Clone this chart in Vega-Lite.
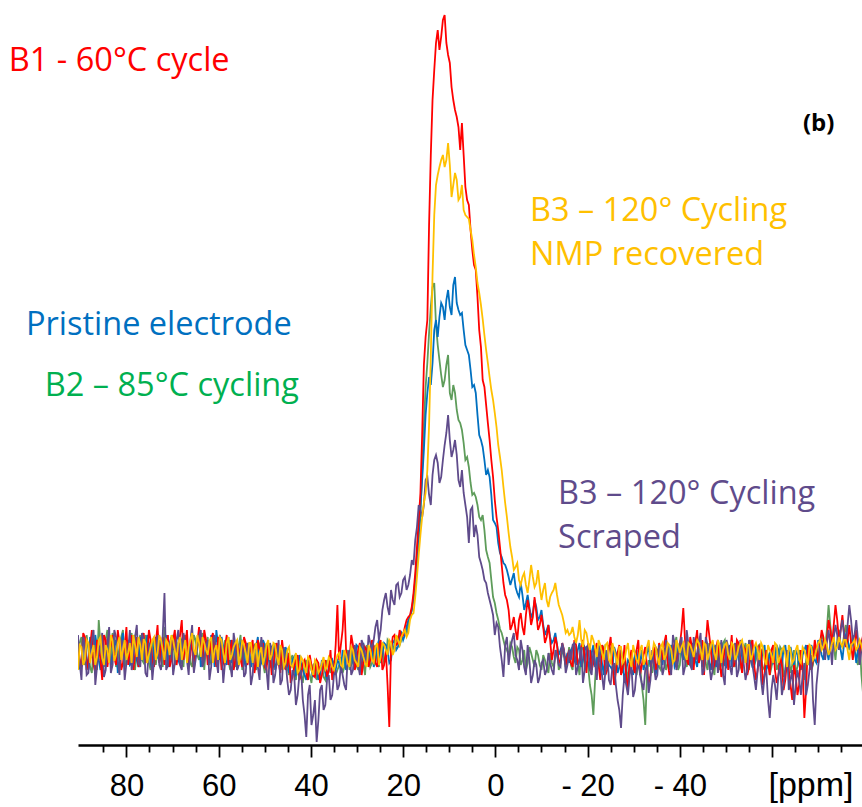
{
  "$schema": "https://vega.github.io/schema/vega-lite/v6.json",
  "width": 784,
  "height": 745,
  "autosize": {"type": "none"},
  "padding": {"left": 78, "top": 0, "right": 0, "bottom": 62},
  "background": "white",
  "config": {"view": {"stroke": null}},
  "datasets": {
    "spec": [
      {"p":90.5,"r":10,"o":-15,"b":5,"g":0,"v":20},
      {"p":90.125,"r":-5,"o":10,"b":-12,"g":12,"v":-8},
      {"p":89.75,"r":-12,"o":8,"b":-8,"g":18,"v":-25},
      {"p":89.375,"r":22,"o":-10,"b":15,"g":-5,"v":18},
      {"p":89,"r":18,"o":-5,"b":12,"g":-10,"v":10},
      {"p":88.625,"r":-15,"o":15,"b":-2,"g":20,"v":-20},
      {"p":88.25,"r":-5,"o":12,"b":-15,"g":5,"v":-18},
      {"p":87.875,"r":8,"o":-8,"b":18,"g":-12,"v":5},
      {"p":87.5,"r":25,"o":2,"b":8,"g":-18,"v":15},
      {"p":87.125,"r":-10,"o":10,"b":-10,"g":5,"v":25},
      {"p":86.75,"r":-18,"o":-10,"b":20,"g":12,"v":-30},
      {"p":86.375,"r":15,"o":-2,"b":8,"g":-15,"v":-12},
      {"p":86,"r":8,"o":15,"b":-5,"g":35,"v":5},
      {"p":85.625,"r":-5,"o":18,"b":-15,"g":10,"v":10},
      {"p":85.25,"r":-25,"o":-3,"b":10,"g":-8,"v":22},
      {"p":84.875,"r":20,"o":-10,"b":5,"g":-12,"v":-22},
      {"p":84.5,"r":15,"o":10,"b":-12,"g":15,"v":-15},
      {"p":84.125,"r":-12,"o":5,"b":15,"g":25,"v":8},
      {"p":83.75,"r":2,"o":-8,"b":18,"g":-5,"v":28},
      {"p":83.375,"r":10,"o":20,"b":-10,"g":-8,"v":-18},
      {"p":83,"r":20,"o":14,"b":0,"g":22,"v":-10},
      {"p":82.625,"r":-2,"o":-6,"b":10,"g":15,"v":25},
      {"p":82.25,"r":-10,"o":0,"b":15,"g":-12,"v":18},
      {"p":81.875,"r":25,"o":12,"b":-18,"g":-5,"v":-5},
      {"p":81.5,"r":12,"o":18,"b":-8,"g":8,"v":-20},
      {"p":81.125,"r":-15,"o":-5,"b":12,"g":18,"v":15},
      {"p":80.75,"r":-8,"o":5,"b":22,"g":25,"v":12},
      {"p":80.375,"r":8,"o":15,"b":-5,"g":-12,"v":-25},
      {"p":80,"r":28,"o":-5,"b":5,"g":-5,"v":-8},
      {"p":79.625,"r":-10,"o":2,"b":15,"g":8,"v":5},
      {"p":79.25,"r":5,"o":12,"b":-10,"g":15,"v":25},
      {"p":78.875,"r":20,"o":-8,"b":-8,"g":22,"v":-15},
      {"p":78.5,"r":-15,"o":20,"b":12,"g":-10,"v":-5},
      {"p":78.125,"r":0,"o":10,"b":20,"g":-15,"v":18},
      {"p":77.75,"r":18,"o":-2,"b":-5,"g":8,"v":30},
      {"p":77.375,"r":-12,"o":18,"b":-12,"g":12,"v":-8},
      {"p":77,"r":-5,"o":10,"b":18,"g":20,"v":-12},
      {"p":76.625,"r":12,"o":-5,"b":8,"g":-5,"v":22},
      {"p":76.25,"r":22,"o":16,"b":2,"g":-8,"v":15},
      {"p":75.875,"r":-8,"o":12,"b":-8,"g":20,"v":-18},
      {"p":75.5,"r":0,"o":-8,"b":20,"g":12,"v":-22},
      {"p":75.125,"r":25,"o":0,"b":12,"g":-8,"v":12},
      {"p":74.75,"r":15,"o":8,"b":-8,"g":-15,"v":8},
      {"p":74.375,"r":-5,"o":15,"b":-15,"g":10,"v":-25},
      {"p":74,"r":-12,"o":18,"b":10,"g":18,"v":-5},
      {"p":73.625,"r":12,"o":-5,"b":18,"g":-10,"v":5},
      {"p":73.25,"r":30,"o":2,"b":-2,"g":5,"v":20},
      {"p":72.875,"r":-8,"o":20,"b":-5,"g":15,"v":-10},
      {"p":72.5,"r":8,"o":15,"b":15,"g":-5,"v":-15},
      {"p":72.125,"r":18,"o":5,"b":8,"g":-12,"v":20},
      {"p":71.75,"r":-10,"o":-5,"b":5,"g":28,"v":62},
      {"p":71.375,"r":5,"o":15,"b":20,"g":10,"v":-15},
      {"p":71,"r":20,"o":12,"b":-12,"g":0,"v":-10},
      {"p":70.625,"r":-12,"o":0,"b":-5,"g":-8,"v":12},
      {"p":70.25,"r":-5,"o":20,"b":12,"g":15,"v":18},
      {"p":69.875,"r":15,"o":15,"b":5,"g":20,"v":-20},
      {"p":69.5,"r":25,"o":5,"b":20,"g":-10,"v":-8},
      {"p":69.125,"r":-10,"o":-5,"b":12,"g":0,"v":15},
      {"p":68.75,"r":2,"o":12,"b":-5,"g":12,"v":25},
      {"p":68.375,"r":20,"o":18,"b":-10,"g":15,"v":-10},
      {"p":68,"r":35,"o":-5,"b":15,"g":-8,"v":-15},
      {"p":67.625,"r":-5,"o":5,"b":20,"g":-12,"v":22},
      {"p":67.25,"r":10,"o":15,"b":8,"g":20,"v":12},
      {"p":66.875,"r":25,"o":-8,"b":0,"g":10,"v":-5},
      {"p":66.5,"r":-8,"o":8,"b":-10,"g":5,"v":-20},
      {"p":66.125,"r":0,"o":15,"b":12,"g":-8,"v":15},
      {"p":65.75,"r":18,"o":22,"b":15,"g":-12,"v":30},
      {"p":65.375,"r":-15,"o":5,"b":-8,"g":20,"v":-18},
      {"p":65,"r":5,"o":0,"b":2,"g":15,"v":-5},
      {"p":64.625,"r":12,"o":20,"b":10,"g":0,"v":8},
      {"p":64.25,"r":28,"o":12,"b":18,"g":-5,"v":18},
      {"p":63.875,"r":5,"o":-2,"b":-12,"g":12,"v":25},
      {"p":63.5,"r":-5,"o":18,"b":-5,"g":22,"v":-12},
      {"p":63.125,"r":25,"o":12,"b":15,"g":-15,"v":-5},
      {"p":62.75,"r":15,"o":5,"b":12,"g":8,"v":8},
      {"p":62.375,"r":-10,"o":0,"b":0,"g":18,"v":15},
      {"p":62,"r":0,"o":14,"b":-8,"g":-10,"v":-25},
      {"p":61.625,"r":15,"o":18,"b":20,"g":-5,"v":-12},
      {"p":61.25,"r":22,"o":-8,"b":10,"g":15,"v":15},
      {"p":60.875,"r":2,"o":5,"b":-12,"g":12,"v":20},
      {"p":60.5,"r":-12,"o":10,"b":25,"g":2,"v":-5},
      {"p":60.125,"r":18,"o":-5,"b":10,"g":-10,"v":-18},
      {"p":59.75,"r":10,"o":18,"b":-5,"g":18,"v":20},
      {"p":59.375,"r":-15,"o":15,"b":18,"g":5,"v":8},
      {"p":59,"r":-8,"o":2,"b":8,"g":-8,"v":-28},
      {"p":58.625,"r":8,"o":-8,"b":-5,"g":15,"v":-8},
      {"p":58.25,"r":20,"o":12,"b":-10,"g":10,"v":10},
      {"p":57.875,"r":-10,"o":18,"b":10,"g":-5,"v":18},
      {"p":57.5,"r":5,"o":-5,"b":15,"g":-15,"v":-10},
      {"p":57.125,"r":15,"o":0,"b":-8,"g":8,"v":-22},
      {"p":56.75,"r":-15,"o":8,"b":0,"g":12,"v":22},
      {"p":56.375,"r":-5,"o":12,"b":12,"g":-12,"v":10},
      {"p":56,"r":12,"o":15,"b":-15,"g":-2,"v":-15},
      {"p":55.625,"r":5,"o":-10,"b":-5,"g":10,"v":-10},
      {"p":55.25,"r":-5,"o":0,"b":10,"g":20,"v":5},
      {"p":54.875,"r":-12,"o":15,"b":15,"g":-15,"v":15},
      {"p":54.5,"r":18,"o":10,"b":-5,"g":-8,"v":-22},
      {"p":54.125,"r":12,"o":2,"b":-12,"g":12,"v":-18},
      {"p":53.75,"r":-10,"o":-8,"b":12,"g":5,"v":12},
      {"p":53.375,"r":0,"o":12,"b":5,"g":-5,"v":5},
      {"p":53,"r":8,"o":12,"b":-12,"g":-12,"v":-30},
      {"p":52.625,"r":15,"o":-8,"b":-5,"g":8,"v":-20},
      {"p":52.25,"r":-18,"o":5,"b":5,"g":10,"v":8},
      {"p":51.875,"r":-8,"o":12,"b":8,"g":-15,"v":12},
      {"p":51.5,"r":15,"o":-12,"b":18,"g":-5,"v":-12},
      {"p":51.125,"r":5,"o":2,"b":-12,"g":10,"v":-25},
      {"p":50.75,"r":0,"o":8,"b":-8,"g":15,"v":18},
      {"p":50.375,"r":12,"o":-10,"b":15,"g":-8,"v":5},
      {"p":50,"r":-12,"o":-2,"b":10,"g":-18,"v":-8},
      {"p":49.625,"r":-15,"o":10,"b":-10,"g":12,"v":-15},
      {"p":49.25,"r":10,"o":15,"b":-5,"g":8,"v":-35},
      {"p":48.875,"r":5,"o":-5,"b":0,"g":-12,"v":12},
      {"p":48.5,"r":-20,"o":0,"b":8,"g":-10,"v":5},
      {"p":48.125,"r":-10,"o":12,"b":10,"g":5,"v":-28},
      {"p":47.75,"r":5,"o":10,"b":-15,"g":12,"v":-20},
      {"p":47.375,"r":12,"o":-2,"b":-8,"g":-10,"v":-5},
      {"p":47,"r":-8,"o":-10,"b":5,"g":-5,"v":15},
      {"p":46.625,"r":-18,"o":10,"b":0,"g":8,"v":-30},
      {"p":46.25,"r":15,"o":5,"b":-10,"g":-15,"v":-25},
      {"p":45.875,"r":0,"o":-12,"b":-12,"g":-8,"v":8},
      {"p":45.5,"r":-15,"o":-8,"b":8,"g":5,"v":-5},
      {"p":45.125,"r":-10,"o":5,"b":2,"g":-12,"v":-25},
      {"p":44.75,"r":2,"o":8,"b":-18,"g":-20,"v":-40},
      {"p":44.375,"r":-28,"o":-10,"b":-12,"g":-5,"v":-35},
      {"p":44,"r":-22,"o":-12,"b":-5,"g":0,"v":-15},
      {"p":43.625,"r":-12,"o":-5,"b":-2,"g":-15,"v":-20},
      {"p":43.25,"r":-5,"o":2,"b":-20,"g":-25,"v":-50},
      {"p":42.875,"r":0,"o":-18,"b":-18,"g":-5,"v":-40},
      {"p":42.5,"r":-25,"o":-15,"b":0,"g":-8,"v":-20},
      {"p":42.125,"r":-20,"o":-2,"b":-8,"g":-20,"v":-15},
      {"p":41.75,"r":-8,"o":-5,"b":-15,"g":-28,"v":-45},
      {"p":41.375,"r":-5,"o":-12,"b":-20,"g":-10,"v":-60},
      {"p":41,"r":-18,"o":-18,"b":-25,"g":-5,"v":-82},
      {"p":40.625,"r":-25,"o":-2,"b":-5,"g":-15,"v":-40},
      {"p":40.25,"r":0,"o":-5,"b":-8,"g":-20,"v":-30},
      {"p":39.875,"r":-10,"o":-15,"b":-15,"g":-28,"v":-70},
      {"p":39.5,"r":-20,"o":-20,"b":-22,"g":-10,"v":-60},
      {"p":39.125,"r":-22,"o":-5,"b":-10,"g":-8,"v":-45},
      {"p":38.75,"r":-5,"o":-8,"b":-5,"g":-25,"v":-87},
      {"p":38.375,"r":-8,"o":-18,"b":-25,"g":-18,"v":-65},
      {"p":38,"r":-28,"o":-15,"b":-20,"g":-12,"v":-35},
      {"p":37.625,"r":-20,"o":-8,"b":-5,"g":-10,"v":-30},
      {"p":37.25,"r":-10,"o":-2,"b":-10,"g":-22,"v":-55},
      {"p":36.875,"r":-5,"o":-15,"b":-18,"g":-25,"v":-50},
      {"p":36.5,"r":-22,"o":-12,"b":-25,"g":-5,"v":-25},
      {"p":36.125,"r":-15,"o":-2,"b":-12,"g":-12,"v":-20},
      {"p":35.75,"r":5,"o":-5,"b":-8,"g":-18,"v":-45},
      {"p":35.375,"r":-25,"o":-12,"b":-5,"g":-5,"v":-40},
      {"p":35,"r":-15,"o":-15,"b":-18,"g":-8,"v":-20},
      {"p":34.625,"r":10,"o":-8,"b":-15,"g":-20,"v":-15},
      {"p":34.25,"r":50,"o":0,"b":-5,"g":-15,"v":-35},
      {"p":33.875,"r":-5,"o":2,"b":-8,"g":-10,"v":-30},
      {"p":33.5,"r":10,"o":-10,"b":-15,"g":-2,"v":-10},
      {"p":33.125,"r":25,"o":-12,"b":5,"g":-18,"v":-20},
      {"p":32.75,"r":55,"o":5,"b":0,"g":-12,"v":-30},
      {"p":32.375,"r":5,"o":0,"b":-15,"g":0,"v":-35},
      {"p":32,"r":-10,"o":-8,"b":-10,"g":5,"v":0},
      {"p":31.625,"r":-5,"o":-12,"b":2,"g":-15,"v":5},
      {"p":31.25,"r":20,"o":8,"b":5,"g":-10,"v":-20},
      {"p":30.875,"r":10,"o":5,"b":-8,"g":8,"v":-15},
      {"p":30.5,"r":-15,"o":-5,"b":-12,"g":0,"v":10},
      {"p":30.125,"r":-8,"o":-8,"b":10,"g":-10,"v":0},
      {"p":29.75,"r":5,"o":-12,"b":8,"g":-15,"v":-10},
      {"p":29.375,"r":12,"o":8,"b":-5,"g":2,"v":-20},
      {"p":29,"r":-20,"o":5,"b":-15,"g":8,"v":15},
      {"p":28.625,"r":-8,"o":-2,"b":12,"g":-8,"v":10},
      {"p":28.25,"r":8,"o":-8,"b":0,"g":-20,"v":-5},
      {"p":27.875,"r":5,"o":-12,"b":-8,"g":10,"v":-10},
      {"p":27.5,"r":-12,"o":10,"b":-10,"g":5,"v":20},
      {"p":27.125,"r":-5,"o":5,"b":5,"g":-12,"v":12},
      {"p":26.75,"r":15,"o":-5,"b":12,"g":-8,"v":5},
      {"p":26.375,"r":8,"o":-8,"b":-12,"g":5,"v":15},
      {"p":26,"r":-8,"o":8,"b":-5,"g":10,"v":28},
      {"p":25.625,"r":-12,"o":12,"b":8,"g":-5,"v":35},
      {"p":25.25,"r":10,"o":-10,"b":15,"g":-12,"v":15},
      {"p":24.875,"r":15,"o":-2,"b":-8,"g":12,"v":25},
      {"p":24.5,"r":-15,"o":12,"b":0,"g":8,"v":45},
      {"p":24.125,"r":-10,"o":10,"b":12,"g":-8,"v":55},
      {"p":23.75,"r":5,"o":5,"b":10,"g":-5,"v":62},
      {"p":23.375,"r":-30,"o":0,"b":5,"g":15,"v":48},
      {"p":23,"r":-72,"o":15,"b":-8,"g":12,"v":40},
      {"p":22.625,"r":5,"o":12,"b":-5,"g":0,"v":65},
      {"p":22.25,"r":18,"o":0,"b":12,"g":5,"v":55},
      {"p":21.875,"r":20,"o":5,"b":15,"g":10,"v":50},
      {"p":21.5,"r":10,"o":20,"b":5,"g":15,"v":70},
      {"p":21.125,"r":12,"o":15,"b":8,"g":18,"v":72},
      {"p":20.75,"r":25,"o":10,"b":18,"g":10,"v":58},
      {"p":20.375,"r":18,"o":18,"b":22,"g":15,"v":62},
      {"p":20,"r":20,"o":22,"b":15,"g":22,"v":75},
      {"p":19.625,"r":28,"o":25,"b":20,"g":25,"v":78},
      {"p":19.25,"r":35,"o":18,"b":28,"g":20,"v":65},
      {"p":18.875,"r":38,"o":22,"b":35,"g":30,"v":70},
      {"p":18.5,"r":40,"o":35,"b":38,"g":38,"v":80},
      {"p":18.125,"r":48,"o":40,"b":45,"g":45,"v":95},
      {"p":17.75,"r":62,"o":42,"b":58,"g":55,"v":90},
      {"p":17.375,"r":82,"o":58,"b":75,"g":70,"v":115},
      {"p":17,"r":108,"o":78,"b":98,"g":92,"v":128},
      {"p":16.625,"r":135,"o":100,"b":120,"g":112,"v":150},
      {"p":16.25,"r":162,"o":120,"b":148,"g":140,"v":145},
      {"p":15.875,"r":220,"o":138,"b":175,"g":185,"v":138},
      {"p":15.5,"r":290,"o":152,"b":205,"g":230,"v":150},
      {"p":15.125,"r":318,"o":162,"b":240,"g":268,"v":175},
      {"p":14.75,"r":335,"o":185,"b":262,"g":292,"v":178},
      {"p":14.375,"r":430,"o":230,"b":278,"g":322,"v":160},
      {"p":14,"r":500,"o":300,"b":270,"g":348,"v":150},
      {"p":13.625,"r":555,"o":380,"b":292,"g":368,"v":180},
      {"p":13.25,"r":585,"o":440,"b":325,"g":372,"v":195},
      {"p":12.875,"r":612,"o":470,"b":335,"g":330,"v":200},
      {"p":12.5,"r":625,"o":480,"b":318,"g":310,"v":192},
      {"p":12.125,"r":605,"o":488,"b":338,"g":295,"v":172},
      {"p":11.75,"r":618,"o":495,"b":352,"g":280,"v":178},
      {"p":11.375,"r":635,"o":500,"b":348,"g":268,"v":195},
      {"p":11,"r":640,"o":488,"b":335,"g":275,"v":210},
      {"p":10.625,"r":612,"o":495,"b":355,"g":290,"v":222},
      {"p":10.25,"r":600,"o":512,"b":365,"g":300,"v":240},
      {"p":9.875,"r":592,"o":490,"b":348,"g":262,"v":215},
      {"p":9.5,"r":568,"o":458,"b":340,"g":255,"v":198},
      {"p":9.125,"r":555,"o":470,"b":370,"g":270,"v":205},
      {"p":8.75,"r":545,"o":482,"b":378,"g":262,"v":215},
      {"p":8.375,"r":538,"o":475,"b":352,"g":245,"v":200},
      {"p":8,"r":528,"o":455,"b":345,"g":235,"v":175},
      {"p":7.625,"r":505,"o":458,"b":340,"g":232,"v":168},
      {"p":7.25,"r":532,"o":470,"b":342,"g":225,"v":185},
      {"p":6.875,"r":500,"o":445,"b":325,"g":212,"v":162},
      {"p":6.5,"r":468,"o":440,"b":310,"g":195,"v":150},
      {"p":6.125,"r":455,"o":438,"b":305,"g":198,"v":138},
      {"p":5.75,"r":450,"o":436,"b":300,"g":188,"v":112},
      {"p":5.375,"r":425,"o":425,"b":285,"g":172,"v":145},
      {"p":5,"r":405,"o":415,"b":268,"g":160,"v":148},
      {"p":4.625,"r":390,"o":400,"b":270,"g":162,"v":118},
      {"p":4.25,"r":385,"o":388,"b":262,"g":158,"v":130},
      {"p":3.875,"r":358,"o":372,"b":240,"g":150,"v":120},
      {"p":3.5,"r":325,"o":362,"b":220,"g":138,"v":98},
      {"p":3.125,"r":308,"o":350,"b":215,"g":135,"v":92},
      {"p":2.75,"r":275,"o":336,"b":208,"g":140,"v":85},
      {"p":2.375,"r":268,"o":320,"b":195,"g":125,"v":75},
      {"p":2,"r":250,"o":305,"b":180,"g":105,"v":72},
      {"p":1.625,"r":232,"o":292,"b":185,"g":98,"v":62},
      {"p":1.25,"r":215,"o":278,"b":178,"g":92,"v":55},
      {"p":0.875,"r":195,"o":265,"b":160,"g":75,"v":48},
      {"p":0.5,"r":178,"o":255,"b":135,"g":58,"v":40},
      {"p":0.125,"r":155,"o":242,"b":132,"g":52,"v":20},
      {"p":-0.25,"r":138,"o":228,"b":128,"g":42,"v":32},
      {"p":-0.625,"r":125,"o":210,"b":112,"g":35,"v":28},
      {"p":-1,"r":108,"o":198,"b":102,"g":26,"v":8},
      {"p":-1.375,"r":90,"o":185,"b":98,"g":22,"v":-5},
      {"p":-1.75,"r":72,"o":168,"b":92,"g":15,"v":-22},
      {"p":-2.125,"r":60,"o":152,"b":90,"g":8,"v":10},
      {"p":-2.5,"r":55,"o":138,"b":85,"g":5,"v":18},
      {"p":-2.875,"r":45,"o":122,"b":78,"g":0,"v":-10},
      {"p":-3.25,"r":25,"o":108,"b":70,"g":12,"v":5},
      {"p":-3.625,"r":30,"o":98,"b":76,"g":8,"v":15},
      {"p":-4,"r":38,"o":85,"b":82,"g":-2,"v":22},
      {"p":-4.375,"r":25,"o":88,"b":68,"g":-8,"v":0},
      {"p":-4.75,"r":15,"o":92,"b":62,"g":8,"v":-5},
      {"p":-5.125,"r":35,"o":75,"b":58,"g":5,"v":-15},
      {"p":-5.5,"r":42,"o":70,"b":72,"g":-10,"v":15},
      {"p":-5.875,"r":28,"o":78,"b":60,"g":-5,"v":5},
      {"p":-6.25,"r":20,"o":82,"b":45,"g":5,"v":-12},
      {"p":-6.625,"r":40,"o":70,"b":52,"g":-15,"v":-20},
      {"p":-7,"r":55,"o":62,"b":60,"g":-8,"v":10},
      {"p":-7.375,"r":45,"o":75,"b":48,"g":8,"v":-5},
      {"p":-7.75,"r":30,"o":90,"b":38,"g":2,"v":-28},
      {"p":-8.125,"r":38,"o":78,"b":42,"g":-5,"v":-20},
      {"p":-8.5,"r":58,"o":68,"b":55,"g":-12,"v":-5},
      {"p":-8.875,"r":42,"o":72,"b":48,"g":5,"v":-10},
      {"p":-9.25,"r":25,"o":85,"b":35,"g":0,"v":-28},
      {"p":-9.625,"r":30,"o":68,"b":38,"g":-10,"v":-22},
      {"p":-10,"r":40,"o":55,"b":45,"g":-15,"v":-8},
      {"p":-10.375,"r":28,"o":65,"b":30,"g":0,"v":-5},
      {"p":-10.75,"r":12,"o":72,"b":20,"g":-5,"v":-20},
      {"p":-11.125,"r":18,"o":55,"b":25,"g":-12,"v":-15},
      {"p":-11.5,"r":30,"o":48,"b":30,"g":-18,"v":2},
      {"p":-11.875,"r":15,"o":58,"b":18,"g":2,"v":-8},
      {"p":-12.25,"r":-5,"o":62,"b":12,"g":-8,"v":-15},
      {"p":-12.625,"r":5,"o":65,"b":15,"g":-12,"v":-20},
      {"p":-13,"r":18,"o":72,"b":22,"g":-2,"v":5},
      {"p":-13.375,"r":10,"o":60,"b":10,"g":5,"v":0},
      {"p":-13.75,"r":-8,"o":50,"b":0,"g":-15,"v":-10},
      {"p":-14.125,"r":-5,"o":45,"b":5,"g":-8,"v":-12},
      {"p":-14.5,"r":12,"o":40,"b":10,"g":5,"v":12},
      {"p":-14.875,"r":5,"o":32,"b":0,"g":0,"v":5},
      {"p":-15.25,"r":-10,"o":22,"b":-5,"g":-12,"v":-18},
      {"p":-15.625,"r":-2,"o":25,"b":2,"g":-5,"v":-10},
      {"p":-16,"r":5,"o":20,"b":-8,"g":8,"v":5},
      {"p":-16.375,"r":-8,"o":22,"b":5,"g":-10,"v":-5},
      {"p":-16.75,"r":-12,"o":28,"b":8,"g":-15,"v":10},
      {"p":-17.125,"r":15,"o":18,"b":-5,"g":10,"v":12},
      {"p":-17.5,"r":10,"o":12,"b":-10,"g":5,"v":-20},
      {"p":-17.875,"r":-10,"o":20,"b":5,"g":-8,"v":-12},
      {"p":-18.25,"r":-5,"o":35,"b":12,"g":-20,"v":-5},
      {"p":-18.625,"r":8,"o":15,"b":-12,"g":5,"v":8},
      {"p":-19,"r":15,"o":8,"b":-5,"g":10,"v":-28},
      {"p":-19.375,"r":-5,"o":25,"b":8,"g":-15,"v":-15},
      {"p":-19.75,"r":-18,"o":22,"b":5,"g":-8,"v":8},
      {"p":-20.125,"r":12,"o":12,"b":-8,"g":-12,"v":10},
      {"p":-20.5,"r":8,"o":5,"b":-15,"g":-30,"v":-15},
      {"p":-20.875,"r":-15,"o":20,"b":2,"g":-40,"v":-20},
      {"p":-21.25,"r":-8,"o":15,"b":10,"g":-60,"v":5},
      {"p":-21.625,"r":5,"o":8,"b":-12,"g":-25,"v":-8},
      {"p":-22,"r":12,"o":-2,"b":-8,"g":0,"v":-25},
      {"p":-22.375,"r":-10,"o":15,"b":10,"g":-8,"v":8},
      {"p":-22.75,"r":-25,"o":10,"b":5,"g":-15,"v":-10},
      {"p":-23.125,"r":10,"o":2,"b":-8,"g":5,"v":-20},
      {"p":-23.5,"r":5,"o":-5,"b":-20,"g":8,"v":-35},
      {"p":-23.875,"r":-20,"o":10,"b":5,"g":-15,"v":-15},
      {"p":-24.25,"r":-15,"o":12,"b":0,"g":-10,"v":5},
      {"p":-24.625,"r":8,"o":-5,"b":-10,"g":10,"v":-25},
      {"p":-25,"r":18,"o":-8,"b":-12,"g":5,"v":-30},
      {"p":-25.375,"r":-8,"o":12,"b":-15,"g":-8,"v":-12},
      {"p":-25.75,"r":-30,"o":5,"b":8,"g":-20,"v":-8},
      {"p":-26.125,"r":-18,"o":-2,"b":2,"g":-12,"v":-30},
      {"p":-26.5,"r":2,"o":-10,"b":-18,"g":2,"v":-45},
      {"p":-26.875,"r":10,"o":8,"b":-12,"g":5,"v":-55},
      {"p":-27.25,"r":-20,"o":8,"b":5,"g":-12,"v":-73},
      {"p":-27.625,"r":-12,"o":-8,"b":-5,"g":-18,"v":-40},
      {"p":-28,"r":10,"o":-5,"b":-28,"g":-5,"v":-20},
      {"p":-28.375,"r":-22,"o":5,"b":-15,"g":-12,"v":-30},
      {"p":-28.75,"r":-35,"o":12,"b":-5,"g":-25,"v":-40},
      {"p":-29.125,"r":-5,"o":-5,"b":-8,"g":-10,"v":-20},
      {"p":-29.5,"r":5,"o":-12,"b":-15,"g":0,"v":-10},
      {"p":-29.875,"r":-10,"o":10,"b":-20,"g":-5,"v":-42},
      {"p":-30.25,"r":-18,"o":2,"b":0,"g":-15,"v":-35},
      {"p":-30.625,"r":5,"o":-5,"b":5,"g":-20,"v":-15},
      {"p":-31,"r":15,"o":-8,"b":-12,"g":-8,"v":-5},
      {"p":-31.375,"r":-20,"o":5,"b":-8,"g":-12,"v":-20},
      {"p":-31.75,"r":-10,"o":10,"b":5,"g":-30,"v":-28},
      {"p":-32.125,"r":0,"o":-10,"b":-15,"g":-45,"v":-35},
      {"p":-32.5,"r":8,"o":-5,"b":-8,"g":-70,"v":-15},
      {"p":-32.875,"r":-12,"o":8,"b":2,"g":-20,"v":-10},
      {"p":-33.25,"r":-28,"o":15,"b":10,"g":-5,"v":-38},
      {"p":-33.625,"r":-20,"o":-5,"b":-12,"g":-10,"v":-25},
      {"p":-34,"r":0,"o":0,"b":-5,"g":-18,"v":5},
      {"p":-34.375,"r":8,"o":12,"b":5,"g":-5,"v":-10},
      {"p":-34.75,"r":-15,"o":8,"b":-20,"g":8,"v":-25},
      {"p":-35.125,"r":-8,"o":-2,"b":-12,"g":5,"v":-20},
      {"p":-35.5,"r":12,"o":-10,"b":2,"g":-12,"v":10},
      {"p":-35.875,"r":5,"o":8,"b":-5,"g":-15,"v":0},
      {"p":-36.25,"r":-5,"o":12,"b":-10,"g":5,"v":-20},
      {"p":-36.625,"r":12,"o":-5,"b":5,"g":0,"v":-12},
      {"p":-37,"r":20,"o":0,"b":8,"g":-15,"v":15},
      {"p":-37.375,"r":-8,"o":12,"b":-8,"g":-8,"v":8},
      {"p":-37.75,"r":-20,"o":10,"b":-15,"g":10,"v":-8},
      {"p":-38.125,"r":-15,"o":5,"b":10,"g":5,"v":-20},
      {"p":-38.5,"r":5,"o":-8,"b":5,"g":-5,"v":20},
      {"p":-38.875,"r":12,"o":-5,"b":-12,"g":10,"v":12},
      {"p":-39.25,"r":-12,"o":15,"b":-8,"g":18,"v":-15},
      {"p":-39.625,"r":0,"o":10,"b":5,"g":-15,"v":-5},
      {"p":-40,"r":10,"o":2,"b":12,"g":-10,"v":12},
      {"p":-40.375,"r":25,"o":8,"b":2,"g":12,"v":18},
      {"p":-40.75,"r":47,"o":12,"b":-5,"g":8,"v":-20},
      {"p":-41.125,"r":15,"o":0,"b":8,"g":-5,"v":-12},
      {"p":-41.5,"r":-5,"o":-5,"b":15,"g":-12,"v":25},
      {"p":-41.875,"r":-10,"o":12,"b":-8,"g":5,"v":10},
      {"p":-42.25,"r":18,"o":10,"b":-10,"g":12,"v":-10},
      {"p":-42.625,"r":8,"o":5,"b":12,"g":-10,"v":-15},
      {"p":-43,"r":-15,"o":-2,"b":8,"g":-8,"v":18},
      {"p":-43.375,"r":12,"o":8,"b":-5,"g":15,"v":5},
      {"p":-43.75,"r":25,"o":15,"b":-12,"g":20,"v":-5},
      {"p":-44.125,"r":-8,"o":12,"b":5,"g":0,"v":12},
      {"p":-44.5,"r":0,"o":5,"b":10,"g":-5,"v":22},
      {"p":-44.875,"r":15,"o":-5,"b":-12,"g":5,"v":-20},
      {"p":-45.25,"r":-20,"o":12,"b":-8,"g":10,"v":-15},
      {"p":-45.625,"r":10,"o":10,"b":10,"g":-8,"v":18},
      {"p":-46,"r":35,"o":-5,"b":5,"g":-15,"v":10},
      {"p":-46.375,"r":20,"o":2,"b":-8,"g":12,"v":-10},
      {"p":-46.75,"r":5,"o":10,"b":-15,"g":5,"v":-25},
      {"p":-47.125,"r":-15,"o":15,"b":12,"g":-12,"v":-15},
      {"p":-47.5,"r":-10,"o":2,"b":8,"g":-20,"v":5},
      {"p":-47.875,"r":8,"o":-5,"b":-12,"g":5,"v":10},
      {"p":-48.25,"r":15,"o":15,"b":-5,"g":8,"v":-18},
      {"p":-48.625,"r":-5,"o":10,"b":5,"g":-15,"v":-5},
      {"p":-49,"r":-22,"o":-8,"b":12,"g":-10,"v":15},
      {"p":-49.375,"r":-10,"o":5,"b":0,"g":12,"v":-20},
      {"p":-49.75,"r":8,"o":10,"b":-10,"g":15,"v":-30},
      {"p":-50.125,"r":12,"o":12,"b":-12,"g":-10,"v":15},
      {"p":-50.5,"r":-15,"o":0,"b":5,"g":-5,"v":8},
      {"p":-50.875,"r":0,"o":-5,"b":10,"g":8,"v":-12},
      {"p":-51.25,"r":20,"o":12,"b":-12,"g":10,"v":-20},
      {"p":-51.625,"r":-12,"o":10,"b":-5,"g":-5,"v":5},
      {"p":-52,"r":-8,"o":-5,"b":10,"g":-12,"v":12},
      {"p":-52.375,"r":15,"o":0,"b":5,"g":12,"v":-22},
      {"p":-52.75,"r":12,"o":8,"b":-5,"g":5,"v":-15},
      {"p":-53.125,"r":-5,"o":12,"b":-10,"g":-12,"v":15},
      {"p":-53.5,"r":-18,"o":15,"b":12,"g":-8,"v":5},
      {"p":-53.875,"r":8,"o":5,"b":5,"g":5,"v":-10},
      {"p":-54.25,"r":5,"o":-8,"b":-8,"g":12,"v":-25},
      {"p":-54.625,"r":-20,"o":10,"b":10,"g":-10,"v":-15},
      {"p":-55,"r":-12,"o":10,"b":5,"g":-15,"v":15},
      {"p":-55.375,"r":10,"o":-5,"b":-5,"g":15,"v":10},
      {"p":-55.75,"r":15,"o":0,"b":-12,"g":8,"v":-10},
      {"p":-56.125,"r":-10,"o":8,"b":-12,"g":-10,"v":-22},
      {"p":-56.5,"r":-25,"o":12,"b":8,"g":-5,"v":-35},
      {"p":-56.875,"r":-15,"o":5,"b":5,"g":8,"v":-15},
      {"p":-57.25,"r":8,"o":-5,"b":-10,"g":10,"v":5},
      {"p":-57.625,"r":5,"o":12,"b":-8,"g":-5,"v":-25},
      {"p":-58,"r":-30,"o":8,"b":5,"g":-12,"v":-40},
      {"p":-58.375,"r":-20,"o":-5,"b":10,"g":-15,"v":-20},
      {"p":-58.75,"r":5,"o":-10,"b":-15,"g":5,"v":-15},
      {"p":-59.125,"r":-8,"o":10,"b":-10,"g":0,"v":-45},
      {"p":-59.5,"r":-20,"o":5,"b":2,"g":-20,"v":-63},
      {"p":-59.875,"r":5,"o":0,"b":5,"g":-12,"v":-35},
      {"p":-60.25,"r":10,"o":-8,"b":-8,"g":0,"v":-20},
      {"p":-60.625,"r":-15,"o":12,"b":-5,"g":8,"v":-30},
      {"p":-61,"r":-28,"o":10,"b":10,"g":-15,"v":-45},
      {"p":-61.375,"r":-20,"o":-8,"b":5,"g":-10,"v":-20},
      {"p":-61.75,"r":0,"o":-2,"b":-12,"g":8,"v":-10},
      {"p":-62.125,"r":-10,"o":5,"b":-8,"g":5,"v":-40},
      {"p":-62.5,"r":-35,"o":8,"b":5,"g":-22,"v":-30},
      {"p":-62.875,"r":-25,"o":0,"b":10,"g":-15,"v":-15},
      {"p":-63.25,"r":-5,"o":-12,"b":-5,"g":-5,"v":5},
      {"p":-63.625,"r":-15,"o":10,"b":-8,"g":0,"v":-35},
      {"p":-64,"r":-30,"o":5,"b":8,"g":-18,"v":-25},
      {"p":-64.375,"r":-45,"o":-8,"b":0,"g":-10,"v":-15},
      {"p":-64.75,"r":-10,"o":-5,"b":-10,"g":5,"v":-50},
      {"p":-65.125,"r":-20,"o":5,"b":5,"g":-18,"v":-30},
      {"p":-65.5,"r":-40,"o":10,"b":0,"g":-12,"v":-15},
      {"p":-65.875,"r":-30,"o":-5,"b":-10,"g":5,"v":-25},
      {"p":-66.25,"r":5,"o":-8,"b":-15,"g":0,"v":-40},
      {"p":-66.625,"r":-15,"o":8,"b":0,"g":-12,"v":-20},
      {"p":-67,"r":-63,"o":5,"b":5,"g":-25,"v":-8},
      {"p":-67.375,"r":-35,"o":-2,"b":10,"g":-5,"v":-40},
      {"p":-67.75,"r":10,"o":-10,"b":-8,"g":5,"v":-30},
      {"p":-68.125,"r":0,"o":10,"b":-10,"g":8,"v":-15},
      {"p":-68.5,"r":-15,"o":8,"b":10,"g":-15,"v":0},
      {"p":-68.875,"r":-5,"o":-5,"b":5,"g":-10,"v":-45},
      {"p":-69.25,"r":15,"o":-2,"b":-5,"g":10,"v":-70},
      {"p":-69.625,"r":5,"o":5,"b":-8,"g":5,"v":-30},
      {"p":-70,"r":-8,"o":12,"b":15,"g":-8,"v":-12},
      {"p":-70.375,"r":10,"o":15,"b":10,"g":10,"v":5},
      {"p":-70.75,"r":25,"o":5,"b":0,"g":20,"v":15},
      {"p":-71.125,"r":18,"o":8,"b":-5,"g":15,"v":8},
      {"p":-71.5,"r":5,"o":15,"b":12,"g":5,"v":-5},
      {"p":-71.875,"r":15,"o":10,"b":5,"g":25,"v":12},
      {"p":-72.25,"r":35,"o":0,"b":-5,"g":50,"v":25},
      {"p":-72.625,"r":25,"o":5,"b":10,"g":30,"v":10},
      {"p":-73,"r":10,"o":12,"b":18,"g":15,"v":-10},
      {"p":-73.375,"r":30,"o":18,"b":8,"g":10,"v":18},
      {"p":-73.75,"r":50,"o":5,"b":5,"g":-5,"v":30},
      {"p":-74.125,"r":35,"o":8,"b":12,"g":15,"v":20},
      {"p":-74.5,"r":15,"o":18,"b":15,"g":25,"v":5},
      {"p":-74.875,"r":25,"o":12,"b":5,"g":10,"v":25},
      {"p":-75.25,"r":40,"o":8,"b":-5,"g":8,"v":35},
      {"p":-75.625,"r":20,"o":15,"b":12,"g":20,"v":20},
      {"p":-76,"r":8,"o":15,"b":20,"g":30,"v":10},
      {"p":-76.375,"r":15,"o":5,"b":15,"g":15,"v":30},
      {"p":-76.75,"r":30,"o":-5,"b":8,"g":5,"v":50},
      {"p":-77.125,"r":12,"o":10,"b":5,"g":10,"v":35},
      {"p":-77.5,"r":-5,"o":12,"b":15,"g":20,"v":15},
      {"p":-77.875,"r":10,"o":15,"b":10,"g":5,"v":20},
      {"p":-78.25,"r":25,"o":5,"b":-8,"g":-5,"v":35},
      {"p":-78.625,"r":10,"o":8,"b":5,"g":-10,"v":15},
      {"p":-79,"r":0,"o":15,"b":10,"g":15,"v":-10},
      {"p":-79.375,"r":12,"o":10,"b":8,"g":-20,"v":5},
      {"p":-79.75,"r":20,"o":2,"b":5,"g":-40,"v":20}
    ],
    "labels": [
      {"t":"B1 - 60°C cycle","p":105.5,"I":584,"s":"r"},
      {"t":"B3 – 120° Cycling","p":-7.5,"I":434,"s":"o"},
      {"t":"NMP recovered","p":-7.5,"I":390,"s":"o"},
      {"t":"Pristine electrode","p":101.8,"I":320,"s":"b"},
      {"t":"B2 – 85°C cycling","p":97.7,"I":259,"s":"g"},
      {"t":"B3 – 120° Cycling","p":-13.6,"I":151,"s":"v"},
      {"t":"Scraped","p":-13.6,"I":107,"s":"v"}
    ]
  },
  "encoding": {
    "x": {
      "field": "p",
      "type": "quantitative",
      "scale": {"domain": [90.5, -79.5], "nice": false, "zero": false},
      "axis": {
        "values": [85,80,75,70,65,60,55,50,45,40,35,30,25,20,15,10,5,0,-5,-10,-15,-20,-25,-30,-35,-40,-45,-50,-55,-60,-65,-70,-75],
        "grid": false,
        "domainColor": "#000000",
        "domainWidth": 2.5,
        "tickColor": "#000000",
        "tickWidth": 1.8,
        "tickSize": {"condition": {"test": "datum.value % 20 === 0", "value": 12}, "value": 7},
        "labelExpr": "datum.value % 20 !== 0 || datum.value < -40 ? '' : (datum.value < 0 ? '- ' + abs(datum.value) + '\u00a0\u00a0' : '' + datum.value)",
        "labelFont": "Liberation Sans",
        "labelFontSize": 31,
        "labelColor": "#000000",
        "labelBaseline": "alphabetic",
        "labelPadding": 38,
        "labelOverlap": false,
        "labelFlush": false,
        "labelBound": false,
        "title": "[ppm]",
        "titleFont": "Liberation Sans",
        "titleFontSize": 34,
        "titleFontWeight": "normal",
        "titleColor": "#000000",
        "titleAlign": "right",
        "titleAngle": 0,
        "titleBaseline": "alphabetic",
        "titleX": 775,
        "titleY": 50
      }
    },
    "y": {
      "field": "I",
      "type": "quantitative",
      "scale": {"domain": [-90, 655], "nice": false, "zero": false},
      "axis": null
    }
  },
  "resolve": {"scale": {"color": "independent"}},
  "layer": [
    {
      "data": {"name": "spec"},
      "transform": [{"fold": ["g", "b", "r", "v", "o"], "as": ["s", "I"]}],
      "mark": {"type": "line", "strokeWidth": 1.8, "clip": true},
      "encoding": {
        "color": {
          "field": "s",
          "type": "nominal",
          "scale": {"domain": ["g", "b", "r", "v", "o"], "range": ["#5E9C5A", "#0070C0", "#FF0000", "#5F4B8B", "#FFC000"]},
          "legend": null
        }
      }
    },
    {
      "data": {"name": "labels"},
      "mark": {"type": "text", "align": "left", "baseline": "alphabetic", "font": "Open Sans", "fontSize": 32.5},
      "encoding": {
        "text": {"field": "t", "type": "nominal"},
        "color": {
          "field": "s",
          "type": "nominal",
          "scale": {"domain": ["r", "o", "b", "g", "v"], "range": ["#FF0000", "#FFC000", "#0070C0", "#00B050", "#5F4B8B"]},
          "legend": null
        }
      }
    },
    {
      "data": {"values": [{"t": "(b)", "p": -66.7, "I": 524}]},
      "mark": {"type": "text", "align": "left", "baseline": "alphabetic", "font": "Open Sans", "fontSize": 24, "fontWeight": "bold", "color": "#000000"},
      "encoding": {
        "text": {"field": "t", "type": "nominal"}
      }
    }
  ]
}
